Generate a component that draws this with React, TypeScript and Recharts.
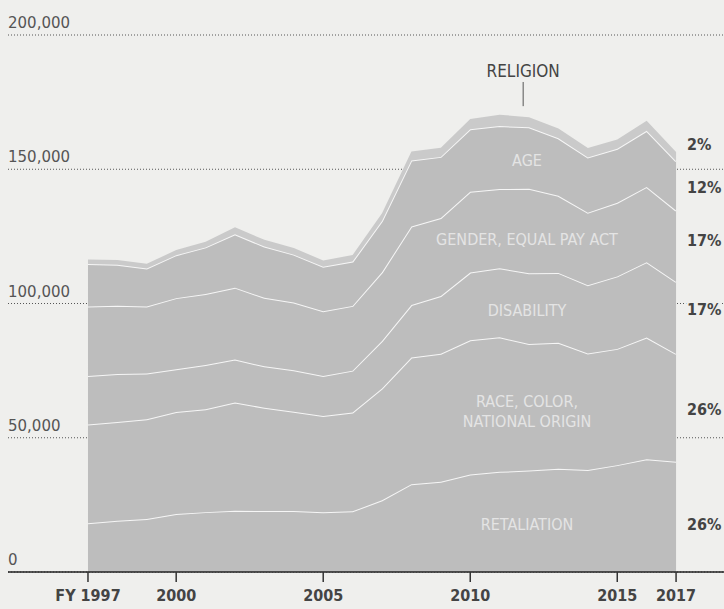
import { Area, AreaChart, CartesianGrid, ReferenceDot, ReferenceLine, XAxis, YAxis } from "recharts";

// EEOC charges by basis, FY1997–FY2017, stacked bottom to top
const years = [
  1997, 1998, 1999, 2000, 2001, 2002, 2003, 2004, 2005, 2006, 2007,
  2008, 2009, 2010, 2011, 2012, 2013, 2014, 2015, 2016, 2017,
];
const retaliation = [
  18200, 19100, 19700, 21600, 22300, 22800, 22700, 22700, 22300, 22600, 26700,
  32700, 33600, 36300, 37300, 37800, 38500, 38000, 39800, 42000, 41100,
];
const raceColorNational = [
  36700, 36800, 37200, 38000, 38300, 40300, 38500, 37000, 35800, 36800, 41600,
  47200, 47700, 50000, 50100, 47100, 46900, 43400, 43300, 45300, 40100,
];
const disability = [
  18100, 17800, 17000, 15900, 16500, 16000, 15400, 15400, 14900, 15600, 17700,
  19500, 21500, 25200, 25700, 26400, 26000, 25400, 27000, 28100, 26800,
];
const genderEqualPay = [
  25900, 25500, 25000, 26500, 26400, 26800, 25500, 25300, 24100, 24100, 25600,
  29300, 29000, 30100, 29500, 31400, 28700, 27000, 27400, 28000, 26600,
];
const age = [
  15800, 15200, 14100, 16000, 17400, 19900, 19100, 17800, 16600, 16500, 19100,
  24600, 22800, 23300, 23500, 22900, 21400, 20600, 20100, 20900, 18400,
];
const religion = [
  1700, 1800, 1800, 1900, 2100, 2600, 2500, 2500, 2300, 2500, 2900,
  3300, 3400, 3800, 4200, 3800, 3700, 3500, 3500, 3800, 3400,
];

const xTicks = [1997, 2000, 2005, 2010, 2015, 2017];
const yTicks = [0, 50000, 100000, 150000, 200000];

// band labels inside the areas: [lines, value]
const bandLabels: [string[], number][] = [
  [["AGE"], 153500],
  [["GENDER, EQUAL PAY ACT"], 124000],
  [["DISABILITY"], 97500],
  [["RACE, COLOR,", "NATIONAL ORIGIN"], 60000],
  [["RETALIATION"], 18000],
];
// 2017 share labels on the right
const shareLabels: [string, number][] = [
  ["2%", 159500],
  ["12%", 143500],
  ["17%", 123500],
  ["17%", 98000],
  ["26%", 60800],
  ["26%", 18000],
];

const rows = years.map((year, i) => ({
  year,
  retaliation: retaliation[i],
  race: raceColorNational[i],
  disability: disability[i],
  gender: genderEqualPay[i],
  age: age[i],
  religion: religion[i],
}));

const BG = "#efefed";
const FILL = "#bdbdbd";
const LINE = "#f6f6f6";
const condensed = "'DejaVu Sans Condensed', 'DejaVu Sans', sans-serif";

const YTick = (p: any) => (
  <text x={p.x} y={p.y - 7} textAnchor="start" fill="#555" fontSize={15} fontFamily="'DejaVu Sans', sans-serif">
    {Number(p.payload.value).toLocaleString("en-US")}
  </text>
);

const XTick = (p: any) => (
  <text x={p.x} y={p.y + 17} textAnchor="middle" fill="#444" fontSize={16} fontWeight="bold" fontFamily={condensed}>
    {p.payload.value === 1997 ? "FY 1997" : p.payload.value}
  </text>
);

export default function App() {
  return (
    <div style={{ width: 724, height: 609, background: BG }}>
      <style>{`body{margin:0}`}</style>
      <AreaChart
        width={724}
        height={609}
        data={rows}
        margin={{ top: 35, right: 0, bottom: 0, left: 0 }}
      >
        <CartesianGrid vertical={false} stroke="#555" strokeDasharray="1 2" />
        <XAxis
          dataKey="year"
          type="number"
          domain={[1994.28, 2018.63]}
          allowDataOverflow
          ticks={xTicks}
          height={37}
          tickSize={10}
          tickMargin={2}
          axisLine={{ stroke: "#222", strokeWidth: 1.5 }}
          tickLine={{ stroke: "#333", strokeWidth: 1.5 }}
          tick={<XTick />}
        />
        <YAxis
          domain={[0, 200000]}
          ticks={yTicks}
          width={8}
          tickSize={0}
          tickMargin={0}
          axisLine={false}
          tickLine={false}
          tick={<YTick />}
        />
        <Area dataKey="retaliation" stackId="a" type="linear" fill={FILL} fillOpacity={1} stroke={LINE} strokeWidth={2} isAnimationActive={false} />
        <Area dataKey="race" stackId="a" type="linear" fill={FILL} fillOpacity={1} stroke={LINE} strokeWidth={2} isAnimationActive={false} />
        <Area dataKey="disability" stackId="a" type="linear" fill={FILL} fillOpacity={1} stroke={LINE} strokeWidth={2} isAnimationActive={false} />
        <Area dataKey="gender" stackId="a" type="linear" fill={FILL} fillOpacity={1} stroke={LINE} strokeWidth={2} isAnimationActive={false} />
        <Area dataKey="age" stackId="a" type="linear" fill={FILL} fillOpacity={1} stroke={LINE} strokeWidth={2} isAnimationActive={false} />
        <Area dataKey="religion" stackId="a" type="linear" fill="#cacaca" fillOpacity={1} stroke="none" isAnimationActive={false} />

        <ReferenceLine
          segment={[{ x: 2011.8, y: 173500 }, { x: 2011.8, y: 182500 }]}
          stroke="#555"
          strokeWidth={1}
        />
        <ReferenceDot
          x={2011.8}
          y={186500}
          r={0}
          ifOverflow="visible"
          shape={(p: any) => (
            <text x={p.cx} y={p.cy + 6} textAnchor="middle" fill="#444" fontSize={17} fontFamily={condensed}>
              RELIGION
            </text>
          )}
        />
        {bandLabels.map(([lines, v]) => (
          <ReferenceDot
            key={lines[0]}
            x={2011.93}
            y={v}
            r={0}
            ifOverflow="visible"
            shape={(p: any) => (
              <text
                x={p.cx}
                y={p.cy + 6 - (lines.length - 1) * 10}
                textAnchor="middle"
                fill="#e4e4e4"
                fontSize={16}
                fontFamily={condensed}
              >
                {lines.map((l, i) => (
                  <tspan key={l} x={p.cx} dy={i === 0 ? 0 : 20}>
                    {l}
                  </tspan>
                ))}
              </text>
            )}
          />
        ))}
        {shareLabels.map(([t, v], i) => (
          <ReferenceDot
            key={i}
            x={2017.37}
            y={v}
            r={0}
            ifOverflow="visible"
            shape={(p: any) => (
              <text
                x={p.cx}
                y={p.cy + 6}
                textAnchor="start"
                fill="#444"
                fontSize={16}
                fontWeight="bold"
                fontFamily={condensed}
                stroke={BG}
                strokeWidth={5}
                paintOrder="stroke"
              >
                {t}
              </text>
            )}
          />
        ))}
      </AreaChart>
    </div>
  );
}
